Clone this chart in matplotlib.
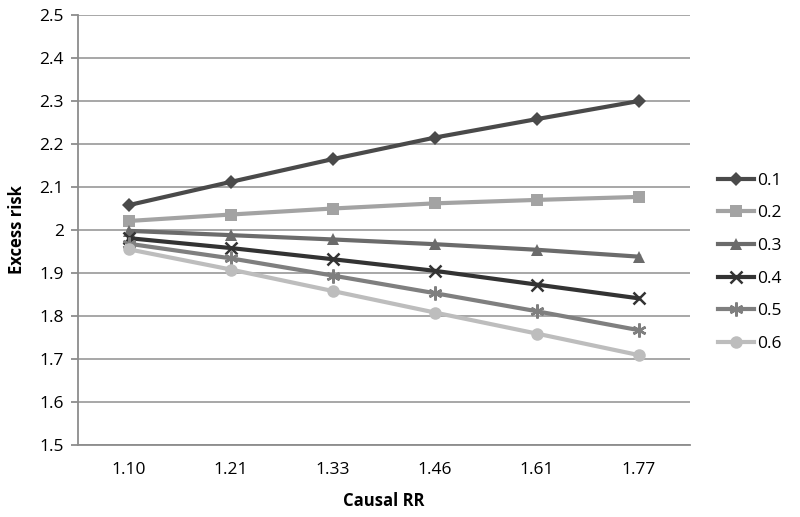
import numpy as np
import matplotlib.pyplot as plt

plt.rcParams['font.family'] = ['Open Sans', 'DejaVu Sans']

causal_rr = ["1.10", "1.21", "1.33", "1.46", "1.61", "1.77"]
series_names = ["0.1", "0.2", "0.3", "0.4", "0.5", "0.6"]

risk_01 = [2.058, 2.112, 2.165, 2.215, 2.258, 2.300]
risk_02 = [2.021, 2.036, 2.050, 2.062, 2.070, 2.077]
risk_03 = [1.998, 1.988, 1.978, 1.967, 1.954, 1.938]
risk_04 = [1.981, 1.958, 1.932, 1.905, 1.873, 1.841]
risk_05 = [1.968, 1.934, 1.894, 1.853, 1.811, 1.767]
risk_06 = [1.955, 1.908, 1.858, 1.808, 1.759, 1.709]

y_ticks = [1.5, 1.6, 1.7, 1.8, 1.9, 2.0, 2.1, 2.2, 2.3, 2.4, 2.5]
y_labels = ["1.5", "1.6", "1.7", "1.8", "1.9", "2", "2.1", "2.2", "2.3", "2.4", "2.5"]

all_series = [risk_01, risk_02, risk_03, risk_04, risk_05, risk_06]
colors = ["#4a4a4a", "#a3a3a3", "#6b6b6b", "#333333", "#7f7f7f", "#bdbdbd"]
markers = ["D", "s", "^", "x", (6, 2, 0), "o"]
msizes = [7, 9, 9, 9, 10, 9]


fig = plt.figure(figsize=(8, 5.17), dpi=100)
ax = fig.add_axes([78 / 800, 1 - 445 / 517, 612 / 800, 430 / 517])

x = np.arange(len(causal_rr))

for vals, name, c, m, ms in zip(all_series, series_names, colors, markers, msizes):
    ax.plot(
        x, vals,
        color=c,
        linewidth=3,
        marker=m,
        markersize=ms,
        markeredgewidth=1.8 if m in ("x", (6, 2, 0)) else 0,
        markeredgecolor=c,
        label=name,
        zorder=3
    )

ax.set_xlim(-0.5, len(causal_rr) - 0.5)
ax.set_ylim(1.5, 2.5)
ax.set_xticks(x)
ax.set_xticklabels(causal_rr)
ax.set_yticks(y_ticks)
ax.set_yticklabels(y_labels)

ax.grid(axis='y', color='#a0a0a0', linewidth=1.3, zorder=0)
ax.set_axisbelow(True)

for side in ['top', 'right']:
    ax.spines[side].set_visible(False)
ax.spines['left'].set_color('#8c8c8c')
ax.spines['bottom'].set_color('#8c8c8c')
ax.spines['left'].set_linewidth(1.3)
ax.spines['bottom'].set_linewidth(1.3)

ax.tick_params(axis='y', length=5, color='#8c8c8c', width=1.3, labelsize=12.5, pad=5)
ax.tick_params(axis='x', length=0, labelsize=12.5, pad=12)

ax.set_xlabel("Causal RR", fontsize=12, fontweight='bold', labelpad=10)
ax.set_ylabel("Excess risk", fontsize=12, fontweight='bold', labelpad=10)

ax.legend(
    loc='center left',
    bbox_to_anchor=(1.02, 0.425),
    frameon=False,
    fontsize=12.5,
    handlelength=2.1,
    labelspacing=0.95,
    handletextpad=0.15
)

fig.savefig("out.png", dpi=100)
